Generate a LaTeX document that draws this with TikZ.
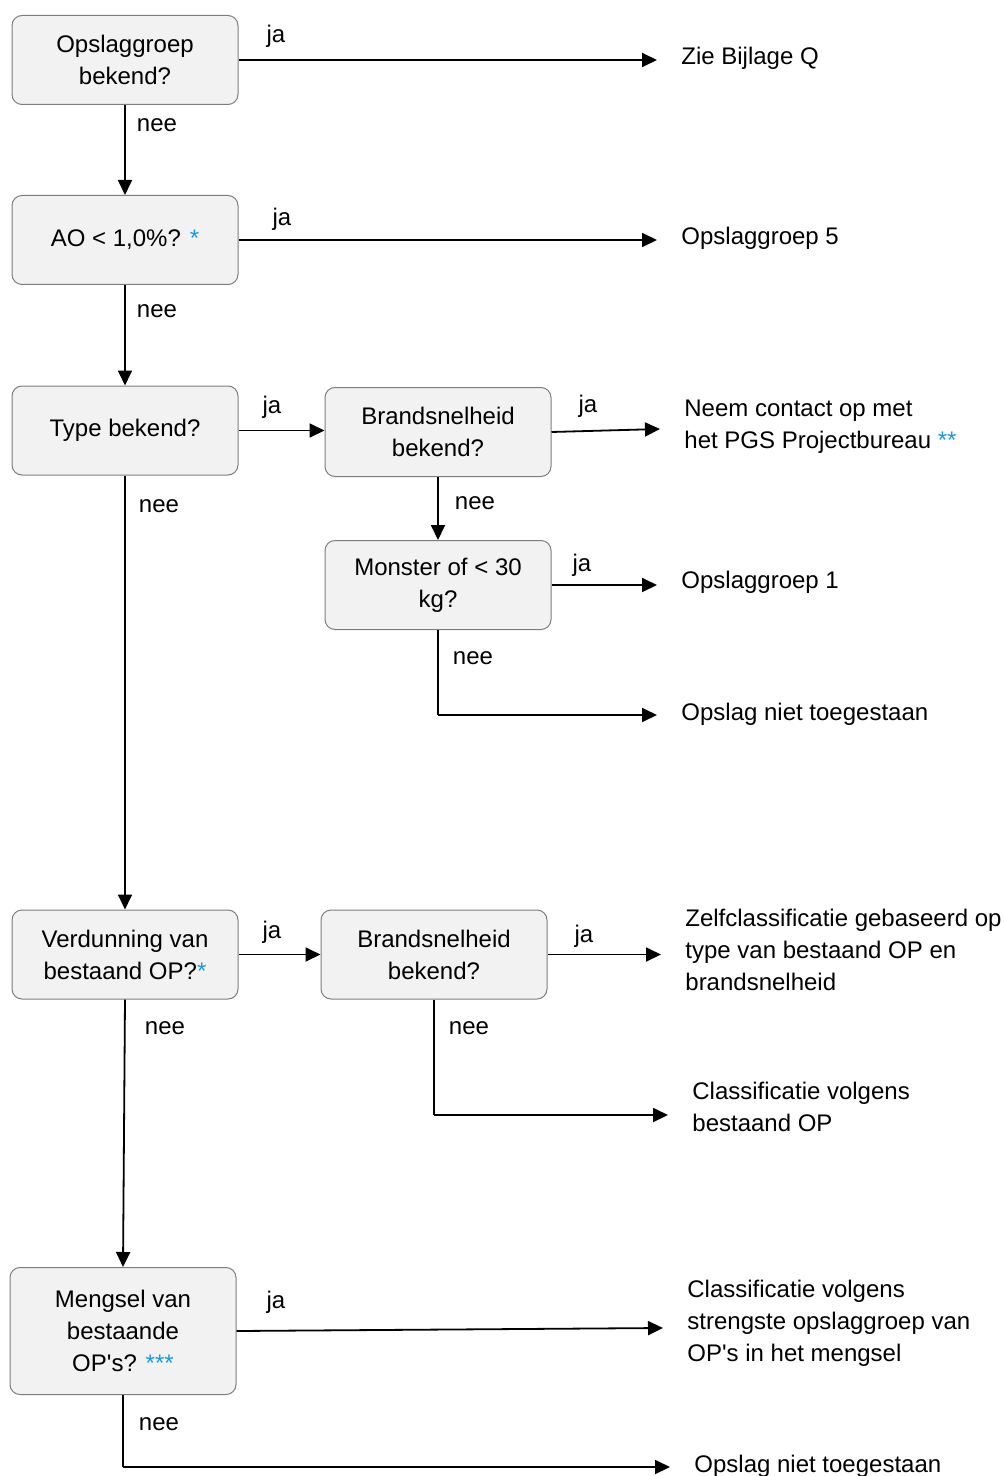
\documentclass[tikz,border=0pt]{standalone}
\usepackage{fontspec}
\setmainfont{Liberation Sans}
\usetikzlibrary{arrows.meta}
\definecolor{starblue}{RGB}{27,152,224}
\definecolor{boxfill}{RGB}{242,242,242}
\definecolor{boxline}{RGB}{125,125,125}
\newcommand{\ster}[1]{\textcolor{starblue}{#1}}

\begin{document}
\begin{tikzpicture}[x=0.5pt,y=0.5pt,yscale=-1,
    every node/.style={font=\fontsize{12}{16}\selectfont},
    vraag/.style={draw=boxline, fill=boxfill, line width=0.5pt, rounded corners=5pt,
      minimum width=113pt, minimum height=44.5pt, inner sep=0pt, align=center},
    uitkomst/.style={anchor=west, inner xsep=12pt, inner ysep=0pt, align=left},
    pijl/.style={line width=0.9pt, -{Triangle[length=7.5pt,width=7pt]}},
    lijn/.style={line width=0.9pt}]
        \useasboundingbox (0,0) rectangle (1004,1476);

        % Vragen
        \node [vraag] (b1) at (125,60) {Opslaggroep\\bekend?};
        \node [vraag] (b2) at (125,240) {AO < 1,0\%? \ster{*}};
        \node [vraag] (b3) at (125,430.5) {Type bekend?};
        \node [vraag] (b4) at (438,432) {Brandsnelheid\\bekend?};
        \node [vraag] (b5) at (438,585) {Monster of < 30\\kg?};
        \node [vraag] (b6) at (125,954.5) {Verdunning van\\bestaand OP?\ster{*}};
        \node [vraag] (b7) at (434,954.5) {Brandsnelheid\\bekend?};
        \node [vraag, minimum height=63.5pt] (b8) at (123,1331) {Mengsel van\\bestaande\\OP\textquotesingle s? \ster{***}};

        % Uitkomsten
        \node [uitkomst] (o1) at (657,58) {Zie Bijlage Q};
        \node [uitkomst] (o2) at (657,238) {Opslaggroep 5};
        \node [uitkomst] (o3) at (660,427) {Neem contact op met\\het PGS Projectbureau \ster{**}};
        \node [uitkomst] (o4) at (657,582) {Opslaggroep 1};
        \node [uitkomst] (o5) at (657,714) {Opslag niet toegestaan};
        \node [uitkomst] (o6) at (661,950) {Zelfclassificatie gebaseerd op\\type van bestaand OP en\\brandsnelheid};
        \node [uitkomst] (o7) at (668,1107) {Classificatie volgens\\bestaand OP};
        \node [uitkomst] (o8) at (663,1323) {Classificatie volgens\\strengste opslaggroep van\\OP\textquotesingle s in het mengsel};
        \node [uitkomst] (o9) at (670,1466) {Opslag niet toegestaan};

        % Knikpunten
        \coordinate (k5) at (438,715);
        \coordinate (k7) at (434,1115);
        \coordinate (k8) at (123,1467);

        % Verbindingen
        \draw [pijl] (b1.east) -- (b1.east -| o1.west);
        \draw [pijl] (b1) -- (b2);
        \draw [pijl] (b2.east) -- (b2.east -| o2.west);
        \draw [pijl] (b2) -- (b3);
        \draw [pijl] (b3) -- (b3 -| b4.west);
        \draw [pijl] (b4.east) -- (o3.west |- 0,429);
        \draw [pijl] (b4) -- (b5);
        \draw [pijl] (b5.east) -- (b5.east -| o4.west);
        \draw [lijn] (b5.south) -- (k5);
        \draw [pijl] (k5) -- (k5 -| o5.west);
        \draw [pijl] (b3) -- (b6);
        \draw [pijl] (b6) -- (b7);
        \draw [pijl] (b7.east) -- (b7.east -| o6.west);
        \draw [lijn] (b7.south) -- (k7);
        \draw [pijl] (k7) -- (k7 -| o7.west);
        \draw [pijl] (b6.south) -- (b8.north);
        \draw [pijl] (b8.east) -- (o8.west |- 0,1328);
        \draw [lijn] (b8.south) -- (k8);
        \draw [pijl] (k8) -- (k8 -| o9.west);

        % Labels
        \node (j1) at (276,36) {ja};
        \node (n1) at (157,125) {nee};
        \node (j2) at (282,219) {ja};
        \node (n2) at (157,311) {nee};
        \node (j3) at (272,407) {ja};
        \node (j4) at (588,406) {ja};
        \node (n4) at (475,503) {nee};
        \node (j5) at (582,565) {ja};
        \node (n5) at (473,658) {nee};
        \node (n3) at (159,506) {nee};
        \node (j6) at (272,932) {ja};
        \node (j7) at (584,936) {ja};
        \node (n7) at (469,1028) {nee};
        \node (n6) at (165,1028) {nee};
        \node (j8) at (276,1302) {ja};
        \node (n8) at (159,1424) {nee};
\end{tikzpicture}
\end{document}
